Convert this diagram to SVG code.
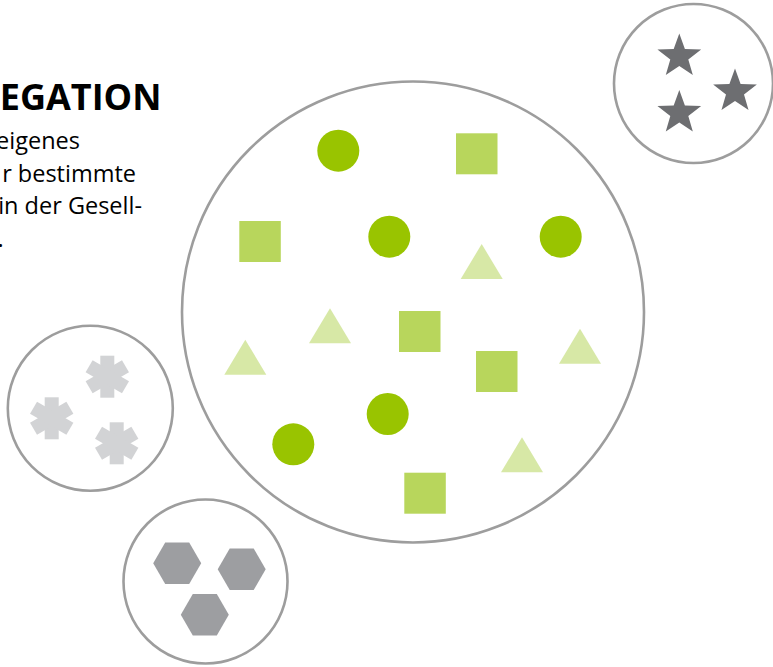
<svg xmlns="http://www.w3.org/2000/svg" width="773" height="667" viewBox="0 0 773 667">
<style>
.ring{fill:none;stroke:#9d9d9d;stroke-width:2.6}
.dot{fill:#99c400}
.sq{fill:#b8d65c}
.tri{fill:#d7e8a6}
.star{fill:#6d6e71}
.ast{fill:#d2d3d5}
.hex{fill:#9d9ea1}
.title{font-family:"Open Sans","Liberation Sans",sans-serif;font-weight:bold;font-size:36px;fill:#000}
.body{font-family:"Open Sans","Liberation Sans",sans-serif;font-size:23.5px;fill:#000}
</style>
<defs>
<polygon id="starShape" points="0,-23 5.6,-7.6 21.87,-7.11 9,3 13.52,18.61 0,9.6 -13.52,18.61 -9,3 -21.87,-7.11 -5.6,-7.6"/>
<g id="astShape"><rect x="-7" y="-21" width="14" height="42"/><rect x="-7" y="-21" width="14" height="42" transform="rotate(60)"/><rect x="-7" y="-21" width="14" height="42" transform="rotate(120)"/></g>
<polygon id="hexShape" points="-24,0 -12,-20.8 12,-20.8 24,0 12,20.8 -12,20.8"/>
<polygon id="triShape" points="0,-35 21,0 -21,0"/>
</defs>
<g id="heading">
<text class="title" x="161.5" y="110" text-anchor="end">EGATION</text>
<text class="body" x="80" y="149" text-anchor="end">eigenes</text>
<text class="body" x="136" y="181.5" text-anchor="end">r bestimmte</text>
<text class="body" x="142" y="214" text-anchor="end">in der Gesell-</text>
<text class="body" x="-2.5" y="246.5">.</text>
</g>
<g id="main-group">
<ellipse class="ring" cx="413" cy="312" rx="231" ry="230.5"/>
<circle class="dot" cx="338.3" cy="150.7" r="21"/>
<circle class="dot" cx="389.3" cy="236.7" r="21"/>
<circle class="dot" cx="560.7" cy="236.7" r="21"/>
<circle class="dot" cx="387.7" cy="414" r="21"/>
<circle class="dot" cx="293.3" cy="444.3" r="21"/>
<rect class="sq" x="456" y="133.3" width="41.5" height="41"/>
<rect class="sq" x="239.3" y="221" width="41.5" height="41"/>
<rect class="sq" x="399" y="311" width="41.5" height="41"/>
<rect class="sq" x="476" y="351" width="41.5" height="41"/>
<rect class="sq" x="404.3" y="472.7" width="41.5" height="41"/>
<use href="#triShape" class="tri" x="481.7" y="279"/>
<use href="#triShape" class="tri" x="330" y="343.3"/>
<use href="#triShape" class="tri" x="245.3" y="374.7"/>
<use href="#triShape" class="tri" x="580" y="363.7"/>
<use href="#triShape" class="tri" x="522" y="472.3"/>
</g>
<g id="star-group">
<circle class="ring" cx="693.5" cy="83.5" r="79.5"/>
<use href="#starShape" class="star" x="679.3" y="56.5"/>
<use href="#starShape" class="star" x="735" y="91.5"/>
<use href="#starShape" class="star" x="679.3" y="113"/>
</g>
<g id="asterisk-group">
<circle class="ring" cx="90.3" cy="408.3" r="82.5"/>
<use href="#astShape" class="ast" x="107.3" y="376.7"/>
<use href="#astShape" class="ast" x="51.7" y="418.3"/>
<use href="#astShape" class="ast" x="116.7" y="443.3"/>
</g>
<g id="hexagon-group">
<circle class="ring" cx="205.5" cy="581.5" r="82"/>
<use href="#hexShape" class="hex" x="177.2" y="563.3"/>
<use href="#hexShape" class="hex" x="241.7" y="569.2"/>
<use href="#hexShape" class="hex" x="204.8" y="614.7"/>
</g>
<g id="connectors"/>
</svg>
